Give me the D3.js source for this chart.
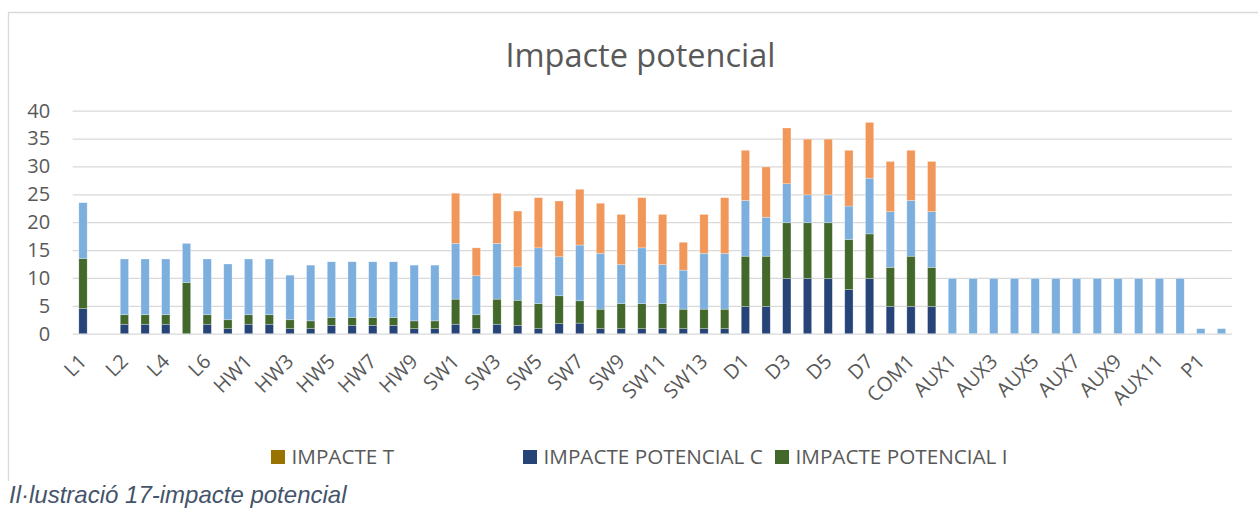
<!DOCTYPE html>
<html>
<head>
<meta charset="utf-8">
<script src="https://cdn.jsdelivr.net/npm/d3@7"></script>
<style>
    body { margin: 0; background: #fff; }
    #chart-area text { font-family: "Open Sans", sans-serif; }
</style>
</head>
<body>
<div id="chart-area"></div>
<script>

// categories (only every other one gets a label on the axis)
let categories = ["L1", "L1b", "L2", "L3", "L4", "L5", "L6", "L7",
    "HW1", "HW2", "HW3", "HW4", "HW5", "HW6", "HW7", "HW8", "HW9", "HW10",
    "SW1", "SW2", "SW3", "SW4", "SW5", "SW6", "SW7", "SW8", "SW9", "SW10", "SW11", "SW12", "SW13", "SW14",
    "D1", "D2", "D3", "D4", "D5", "D6", "D7", "D8",
    "COM1", "COM2",
    "AUX1", "AUX2", "AUX3", "AUX4", "AUX5", "AUX6", "AUX7", "AUX8", "AUX9", "AUX10", "AUX11", "AUX12",
    "P1", "P2"];

// series values, bottom of the stack first
let impacteC = [4.5, 0, 1.7, 1.7, 1.7, 0, 1.7, 0.9,
    1.7, 1.7, 0.9, 0.9, 1.5, 1.5, 1.5, 1.5, 0.9, 0.9,
    1.7, 0.9, 1.7, 1.5, 0.9, 1.8, 1.9, 0.9, 0.9, 0.9, 0.9, 0.9, 0.9, 0.9,
    4.9, 4.9, 9.9, 9.9, 9.9, 7.9, 9.9, 4.9,
    4.9, 4.9,
    0, 0, 0, 0, 0, 0, 0, 0, 0, 0, 0, 0,
    0, 0];

let impacteI = [9, 0, 1.7, 1.7, 1.7, 9.2, 1.7, 1.6,
    1.7, 1.7, 1.6, 1.4, 1.4, 1.4, 1.4, 1.4, 1.4, 1.4,
    4.5, 2.5, 4.5, 4.5, 4.5, 5, 4, 3.5, 4.5, 4.5, 4.5, 3.5, 3.5, 3.5,
    9, 9, 10, 10, 10, 9, 8, 7,
    9, 7,
    0, 0, 0, 0, 0, 0, 0, 0, 0, 0, 0, 0,
    0, 0];

let impacteA = [10, 0, 10, 10, 10, 7, 10, 10,
    10, 10, 8, 10, 10, 10, 10, 10, 10, 10,
    10, 7, 10, 6, 10, 7, 10, 10, 7, 10, 7, 7, 10, 10,
    10, 7, 7, 5, 5, 6, 10, 10,
    10, 10,
    9.9, 9.9, 9.9, 9.9, 9.9, 9.9, 9.9, 9.9, 9.9, 9.9, 9.9, 9.9,
    0.9, 0.9];

let impacteB = [0, 0, 0, 0, 0, 0, 0, 0,
    0, 0, 0, 0, 0, 0, 0, 0, 0, 0,
    9, 5, 9, 10, 9, 10, 10, 9, 9, 9, 9, 5, 7, 10,
    9, 9, 10, 10, 10, 10, 10, 9,
    9, 9,
    0, 0, 0, 0, 0, 0, 0, 0, 0, 0, 0, 0,
    0, 0];

let impacteT = categories.map(() => 0);

// y axis ticks
let yTicks = [0, 5, 10, 15, 20, 25, 30, 35, 40];

// legend entries (as shown in the reference)
let legendLabels = ["IMPACTE T", "IMPACTE POTENCIAL C", "IMPACTE POTENCIAL I"];
let legendKeys = ["T", "C", "I"];


class ImpactVis {

    constructor(parentElement) {
        this.parentElement = parentElement;
        this.initVis();
    }

    initVis() {
        let vis = this;

        vis.width = 1258;
        vis.height = 526;

        vis.colors = {C: "#264478", I: "#43682B", A: "#7CAFDD", B: "#F1975A", T: "#997300"};

        vis.svg = d3.select("#" + vis.parentElement)
            .append("svg")
            .attr("width", vis.width)
            .attr("height", vis.height);

        // chart border (top + left, the rest is cropped)
        vis.svg.append("path")
            .attr("d", "M8.5,481 V12.5 H1258")
            .attr("fill", "none")
            .attr("stroke", "#d9d9d9")
            .attr("stroke-width", 1.3);

        // title
        vis.svg.append("text")
            .attr("x", 640.5)
            .attr("y", 66.5)
            .attr("text-anchor", "middle")
            .attr("fill", "#595959")
            .style("font-size", "32.5px")
            .text("Impacte potencial");

        // scales
        vis.x = d3.scaleBand()
            .domain(categories)
            .range([72.65, 1231.85])
            .paddingInner(0.6)
            .paddingOuter(0.3);

        vis.y = d3.scaleLinear()
            .domain([0, 40])
            .range([333.7, 110.7]);

        // gridlines + y labels
        vis.yAxisGroup = vis.svg.append("g")
            .attr("class", "y-axis")
            .attr("transform", "translate(72.65,0)")
            .call(d3.axisLeft(vis.y)
                .tickValues(yTicks)
                .tickSize(-(1231.85 - 72.65))
                .tickPadding(22.5));
        vis.yAxisGroup.select(".domain").remove();
        vis.yAxisGroup.selectAll("line")
            .attr("stroke", "#d9d9d9")
            .attr("stroke-width", 1.3);
        vis.yAxisGroup.selectAll("text")
            .attr("fill", "#595959")
            .style("font-size", "20px");

        // x labels, rotated
        vis.xAxisGroup = vis.svg.append("g")
            .attr("class", "x-axis")
            .attr("transform", "translate(0,333.7)")
            .call(d3.axisBottom(vis.x)
                .tickValues(categories.filter((d, i) => i % 2 === 0))
                .tickSize(0));
        vis.xAxisGroup.select(".domain").remove();
        vis.xAxisGroup.selectAll("text")
            .attr("y", 0)
            .attr("dy", "0.35em")
            .attr("text-anchor", "end")
            .attr("transform", "translate(0,24) rotate(-45)")
            .attr("fill", "#595959")
            .style("font-size", "20px");

        vis.barGroup = vis.svg.append("g").attr("class", "bars");

        // legend
        vis.legend = vis.svg.append("g").attr("class", "legend")
            .selectAll(".legend-item")
            .data(legendKeys)
            .join("g")
            .attr("class", "legend-item")
            .attr("transform", (d, i) => `translate(${271 + i * 252},450)`);
        vis.legend.append("rect")
            .attr("width", 14)
            .attr("height", 14)
            .attr("fill", d => vis.colors[d]);
        vis.legend.append("text")
            .attr("x", 20.5)
            .attr("y", 7)
            .attr("dy", "0.35em")
            .attr("fill", "#595959")
            .style("font-size", "20.7px")
            .text((d, i) => legendLabels[i]);

        // caption under the chart
        vis.svg.append("text")
            .attr("x", 9)
            .attr("y", 503)
            .attr("fill", "#44546A")
            .style("font-family", "'Liberation Sans', Arial, sans-serif")
            .style("font-style", "italic")
            .style("font-size", "24px")
            .text("Il·lustració 17-impacte potencial");

        vis.wrangleData();
    }

    wrangleData() {
        let vis = this;

        vis.rows = categories.map((c, i) => ({
            cat: c, C: impacteC[i], I: impacteI[i], A: impacteA[i], B: impacteB[i], T: impacteT[i]
        }));

        vis.stacked = d3.stack().keys(["C", "I", "A", "B", "T"])(vis.rows);

        vis.updateVis();
    }

    updateVis() {
        let vis = this;

        vis.barGroup.selectAll(".layer")
            .data(vis.stacked)
            .join("g")
            .attr("class", "layer")
            .attr("fill", d => vis.colors[d.key])
            .selectAll("rect")
            .data(d => d)
            .join("rect")
            .attr("x", d => vis.x(d.data.cat))
            .attr("width", vis.x.bandwidth())
            .attr("y", d => vis.y(d[1]))
            .attr("height", d => vis.y(d[0]) - vis.y(d[1]))
            .attr("stroke", "#ffffff")
            .attr("stroke-opacity", 0.45)
            .attr("stroke-width", 0.6);
    }
}

let impactVis = new ImpactVis("chart-area");

</script>
</body>
</html>
